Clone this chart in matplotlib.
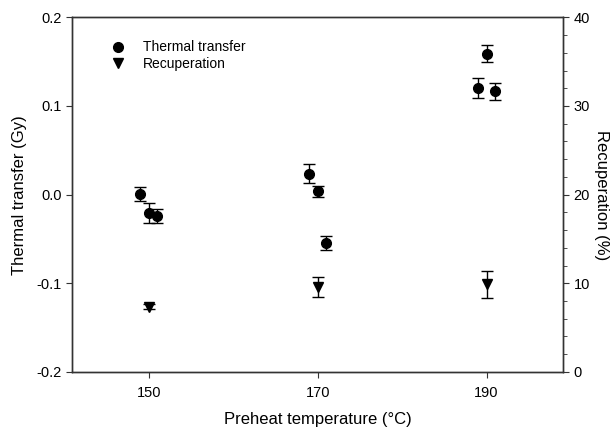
import matplotlib
matplotlib.use("Agg")
import matplotlib.pyplot as plt
from matplotlib.lines import Line2D
from matplotlib.ticker import MultipleLocator

plt.rcParams['font.family'] = ['Liberation Sans', 'DejaVu Sans']

# Thermal transfer (left axis, Gy)
tt_x = [149, 150, 151, 169, 170, 171, 189, 190, 191]
tt_y = [0.001, -0.0205, -0.024, 0.0237, 0.0037, -0.0545, 0.1203, 0.159, 0.1165]
tt_err = [0.008, 0.011, 0.008, 0.0105, 0.006, 0.0083, 0.011, 0.0094, 0.0098]

# Recuperation (right axis, %)
rec_x = [150, 170, 190]
rec_y = [7.36, 9.6, 9.9]
rec_err = [0.3, 1.1, 1.54]

xticks = [150, 170, 190]

fig = plt.figure(figsize=(6.16, 4.33), dpi=100)
ax = fig.add_axes([0.117, 0.141, 0.797, 0.819])
ax2 = ax.twinx()

ax.errorbar(tt_x, tt_y, yerr=tt_err, fmt='o', color='black', ms=7,
            capsize=4, elinewidth=1, capthick=1)
ax2.errorbar(rec_x, rec_y, yerr=rec_err, fmt='v', color='black', ms=7,
             capsize=4, elinewidth=1, capthick=1)

ax.set_xlim(140.9, 199.05)
ax.set_ylim(-0.2, 0.2)
ax2.set_ylim(0, 40)
ax.set_xticks(xticks)
ax.set_yticks([-0.2, -0.1, 0.0, 0.1, 0.2])
ax.yaxis.set_major_formatter(matplotlib.ticker.FormatStrFormatter('%.1f'))
ax2.yaxis.set_major_locator(MultipleLocator(10))
ax2.yaxis.set_minor_locator(MultipleLocator(2))

for a in (ax, ax2):
    for s in a.spines.values():
        s.set_color('#333333')
        s.set_linewidth(1.0)
ax.tick_params(axis='both', direction='out', length=4, labelsize=10.5, color='#333333', top=False)
ax.tick_params(axis='x', pad=6)
ax2.tick_params(axis='y', which='major', direction='out', length=4, labelsize=10.5, color='#333333')
ax2.tick_params(axis='y', which='minor', direction='out', length=3, color='#333333')

ax.set_xlabel('Preheat temperature (°C)', fontsize=12, labelpad=9)
ax.set_ylabel('Thermal transfer (Gy)', fontsize=12, labelpad=7)
ax2.set_ylabel('Recuperation (%)', fontsize=12, rotation=270, labelpad=14)

handles = [Line2D([], [], marker='o', color='black', ls='none', ms=7),
           Line2D([], [], marker='v', color='black', ls='none', ms=7)]
ax.legend(handles, ['Thermal transfer', 'Recuperation'], loc='upper left',
          bbox_to_anchor=(0.04, 0.97), frameon=False, fontsize=10,
          handletextpad=0.8, labelspacing=0.2)

fig.savefig('out.png', dpi=100)
